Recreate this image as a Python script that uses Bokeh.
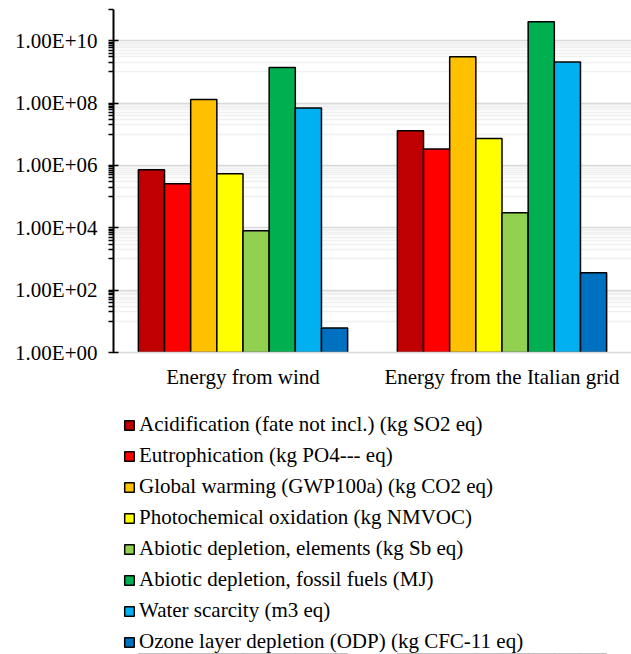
from bokeh.plotting import figure
from bokeh.layouts import column
from bokeh.models import (ColumnDataSource, FactorRange, Range1d, FixedTicker,
                          CustomJSTickFormatter, Legend, LegendItem)
from bokeh.transform import dodge
from bokeh.embed import file_html
from bokeh.resources import INLINE

# ---------------- data ----------------
categories = ["Energy from wind", "Energy from the Italian grid"]
impact_names = [
    "Acidification (fate not incl.) (kg SO2 eq)",
    "Eutrophication (kg PO4--- eq)",
    "Global warming (GWP100a) (kg CO2 eq)",
    "Photochemical oxidation (kg NMVOC)",
    "Abiotic depletion, elements (kg Sb eq)",
    "Abiotic depletion, fossil fuels (MJ)",
    "Water scarcity (m3 eq)",
    "Ozone layer depletion (ODP) (kg CFC-11 eq)",
]
colors = ["#C00000", "#FF0000", "#FFC000", "#FFFF00",
          "#92D050", "#00B050", "#00B0F0", "#0070C0"]
wind_values = [7.3e5, 2.6e5, 1.31e8, 5.4e5, 8.0e3, 1.39e9, 6.9e7, 6.1]
grid_values = [1.3e7, 3.35e6, 3.07e9, 7.3e6, 3.03e4, 4.07e10, 2.07e9, 361]
y_tick_values = [1e0, 1e2, 1e4, 1e6, 1e8, 1e10]
y_tick_labels = ["1.00E+00", "1.00E+02", "1.00E+04", "1.00E+06",
                 "1.00E+08", "1.00E+10"]
y_min, y_max = 1, 1e11

FONT = "Liberation Serif"
FSIZE = "21px"

p = figure(width=631, height=392,
           x_range=FactorRange(factors=categories),
           y_range=Range1d(y_min, y_max), y_axis_type="log",
           output_backend="svg", toolbar_location=None,
           min_border_left=113, min_border_right=0,
           min_border_top=9, min_border_bottom=40)
p.outline_line_color = None
p.background_fill_color = "white"

n = len(impact_names)
bar_w = 0.101
cols = {"cat": categories}
for i in range(n):
    cols[f"s{i}"] = [wind_values[i], grid_values[i]]
source = ColumnDataSource(cols)

bar_style = dict(bottom=y_min, width=bar_w, line_color="black", line_width=1.5,
                 source=source)
for i in range(n):
    p.vbar(x=dodge("cat", (i - (n - 1) / 2) * bar_w, range=p.x_range),
           top=f"s{i}", fill_color=colors[i], **bar_style)

# y axis (log, Excel-like majors every two decades)
minor = [k * 10 ** (2 * m + 1) for m in range(5) for k in range(1, 10)] + [1e11]
ticker = FixedTicker(ticks=y_tick_values, minor_ticks=minor)
ya = p.yaxis[0]
ya.ticker = ticker
ya.formatter = CustomJSTickFormatter(
    args=dict(vals=y_tick_values, labs=y_tick_labels),
    code="""
for (let i = 0; i < vals.length; i++) {
  if (Math.abs(Math.log10(vals[i]) - Math.log10(tick)) < 1e-6) return labs[i];
}
return '';
""")
ya.axis_line_color = "black"
ya.axis_line_width = 2
ya.major_tick_line_color = "black"
ya.major_tick_line_width = 1.5
ya.major_tick_in = 5
ya.major_tick_out = 5
ya.minor_tick_line_color = "black"
ya.minor_tick_line_width = 1.5
ya.minor_tick_in = 0
ya.minor_tick_out = 5
ya.major_label_standoff = 11
ya.major_label_text_font = FONT
ya.major_label_text_font_size = FSIZE
ya.major_label_text_color = "black"

xa = p.xaxis[0]
xa.axis_line_color = "#d9d9d9"
xa.axis_line_width = 1.5
xa.major_tick_line_color = None
xa.minor_tick_line_color = None
xa.major_tick_in = 0
xa.major_tick_out = 0
xa.major_label_standoff = 12
xa.major_label_text_font = FONT
xa.major_label_text_font_size = FSIZE
xa.major_label_text_color = "black"

p.xgrid.grid_line_color = None
p.ygrid.ticker = ticker
p.ygrid.grid_line_color = "#d9d9d9"
p.ygrid.grid_line_width = 1.5
p.ygrid.minor_grid_line_color = "#f0f0f0"
p.ygrid.minor_grid_line_width = 1.5

# ---------------- legend panel below the chart ----------------
# legend-only panel: its value range lies above all data, so its bar
# renderers stay out of view and only serve as legend swatches
pl = figure(width=631, height=262, x_range=p.x_range,
            y_range=Range1d(y_max * 10, y_max * 100),
            y_axis_type="log", x_axis_location=None, y_axis_location=None,
            output_backend="svg", toolbar_location=None,
            min_border_left=113, min_border_right=0,
            min_border_top=10, min_border_bottom=0)
pl.outline_line_color = None
pl.grid.visible = False

items = []
for i in range(n):
    r = pl.vbar(x=dodge("cat", (i - (n - 1) / 2) * bar_w, range=p.x_range),
                top=f"s{i}", fill_color=colors[i], **bar_style)
    items.append(LegendItem(label=impact_names[i], renderers=[r]))

legend = Legend(items=items, location="top_left", orientation="vertical",
                padding=10, margin=0, spacing=6, label_height=20,
                glyph_height=12, glyph_width=12, label_standoff=4,
                label_text_font=FONT, label_text_font_size=FSIZE,
                label_text_color="black",
                background_fill_alpha=0, border_line_alpha=0)
pl.add_layout(legend)

layout = column(p, pl, spacing=0)
open("out.html", "w").write(file_html(layout, INLINE))
